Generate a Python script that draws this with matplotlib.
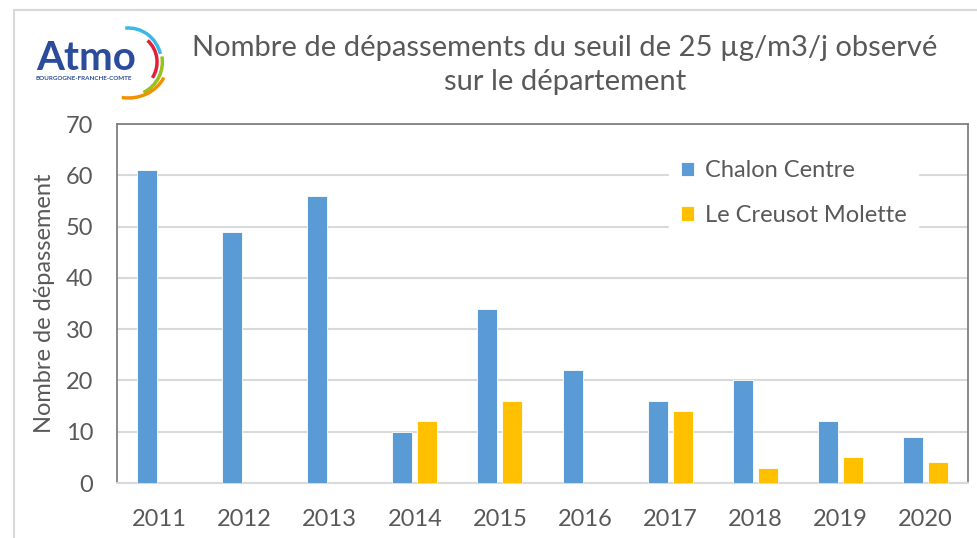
import numpy as np
import matplotlib
matplotlib.use('Agg')
import matplotlib.pyplot as plt
from matplotlib.patches import Arc
from matplotlib.lines import Line2D

years = ['2011', '2012', '2013', '2014', '2015', '2016', '2017', '2018', '2019', '2020']
chalon = [61, 49, 56, 10, 34, 22, 16, 20, 12, 9]
creusot = [0, 0, 0, 12, 16, 0, 14, 3, 5, 4]
series_names = ['Chalon Centre', 'Le Creusot Molette']
title = 'Nombre de dépassements du seuil de 25 µg/m3/j observé\nsur le département'
ylabel = 'Nombre de dépassement'

plt.rcParams['font.family'] = ['Lato', 'DejaVu Sans']
grey_txt = '#595959'

fig = plt.figure(figsize=(9.78, 5.38), dpi=100)
ax = fig.add_axes([117 / 978, 55 / 538, 851 / 978, 359 / 538])

x = np.arange(len(years))
w = 0.235
ax.bar(x - 0.147, chalon, w, color='#5B9BD5', edgecolor='white', linewidth=0.6,
       label=series_names[0], zorder=3)
ax.bar(x + 0.147, creusot, w, color='#FFC000', edgecolor='white', linewidth=0.6,
       label=series_names[1], zorder=3)

ax.set_xlim(-0.5, len(years) - 0.5)
ax.set_ylim(0, 70)
ax.set_yticks(range(0, 71, 10))
ax.set_xticks(x)
ax.set_xticklabels(years)
ax.yaxis.grid(True, color='#D9D9D9', linewidth=1.5, zorder=0)
ax.tick_params(length=0, labelsize=17, colors=grey_txt)
ax.tick_params(axis='x', pad=19)
ax.tick_params(axis='y', pad=17)
for s in ['left', 'top', 'right']:
    ax.spines[s].set_color('#808080')
    ax.spines[s].set_linewidth(1.3)
ax.spines['bottom'].set_color('#D9D9D9')
ax.spines['bottom'].set_linewidth(1.5)
ax.set_ylabel(ylabel, fontsize=17, color=grey_txt)
ax.yaxis.set_label_coords(-0.073, 0.5)

leg = ax.legend(loc='upper left', bbox_to_anchor=(0.635, 0.965), frameon=True,
                fontsize=17, handlelength=0.55, handleheight=0.55, handletextpad=0.45,
                labelspacing=1.0, borderpad=0.5)
leg.get_frame().set_edgecolor('white')
leg.get_frame().set_facecolor('white')
leg.get_frame().set_alpha(1)
for t in leg.get_texts():
    t.set_color(grey_txt)

fig.text(565 / 978, 1 - 65 / 538, title, ha='center', va='center', fontsize=21,
         color=grey_txt, linespacing=1.4)

# outer frame
fig.add_artist(Line2D([14 / 978, 14 / 978], [0, 1 - 10 / 538], color='#D9D9D9', lw=1.5))
fig.add_artist(Line2D([14 / 978, 1], [1 - 10 / 538, 1 - 10 / 538], color='#D9D9D9', lw=1.5))

# logo
fig.text(86 / 978, 1 - 58 / 538, 'Atmo', ha='center', va='center', fontsize=29,
         fontweight='bold', color='#2B4C9B')
fig.text(84 / 978, 1 - 79 / 538, 'BOURGOGNE-FRANCHE-COMTE', ha='center', va='center',
         fontsize=4.5, fontweight='bold', color='#2B4C9B')
lax = fig.add_axes([88 / 978, 1 - 102 / 538, 85 / 978, 80 / 538])
lax.set_xlim(-1, 1)
lax.set_ylim(-1, 1)
lax.axis('off')
arcs = [('#3BB8E6', 1.55, 1.7, 15, 95), ('#E3203B', 1.35, 1.45, -35, 50),
        ('#96C11F', 1.6, 1.7, -65, 10), ('#F39200', 1.85, 1.8, -100, -25)]
for col, wd, ht, t1, t2 in arcs:
    lax.add_patch(Arc((-0.05, 0.0), wd, ht, theta1=t1, theta2=t2, color=col, lw=2.5))

fig.savefig('out.png', dpi=100)
